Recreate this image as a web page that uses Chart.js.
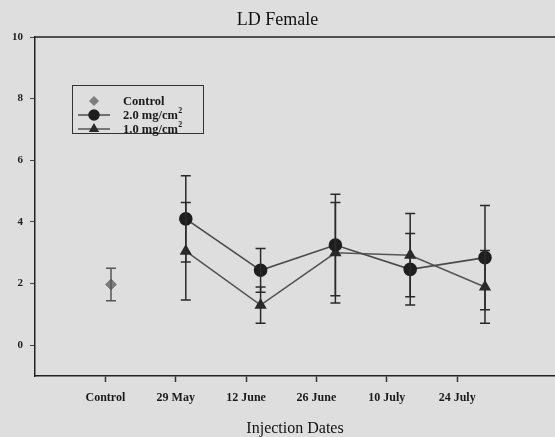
<!DOCTYPE html>
<html>
<head>
<meta charset="utf-8">
<title>LD Female</title>
<script src="https://cdn.jsdelivr.net/npm/chart.js@4.4.1/dist/chart.umd.min.js"></script>
<style>
    html, body { margin: 0; padding: 0; background: #dedede; }
    #wrap { position: relative; width: 555px; height: 437px; }
</style>
</head>
<body>
<div id="wrap"><canvas id="chart" width="555" height="437"></canvas></div>
<script>
// Data
const categories = ['Control', '29 May', '12 June', '26 June', '10 July', '24 July'];
const controlMean = [1.97];
const controlErr = [0.53];
const dose2Mean = [null, 4.10, 2.43, 3.25, 2.46, 2.84];
const dose2Err = [null, 1.40, 0.71, 1.65, 1.16, 1.69];
const dose1Mean = [null, 3.05, 1.30, 3.00, 2.92, 1.89];
const dose1Err = [null, 1.58, 0.59, 1.63, 1.35, 1.18];
const yTicks = [0, 2, 4, 6, 8, 10];

const serif = '"Liberation Serif", "DejaVu Serif", serif';

function toPoints(means, errs) {
    return means.map((m, i) => m === null ? null : { x: i + 1, y: m, err: errs[i] }).filter(p => p);
}

// vertical error bars with caps
const errorBars = {
    id: 'errorBars',
    afterDatasetsDraw(chart) {
        const ctx = chart.ctx;
        const ys = chart.scales.y;
        chart.data.datasets.forEach((ds, di) => {
            const meta = chart.getDatasetMeta(di);
            meta.data.forEach((el, i) => {
                const p = ds.data[i];
                const top = ys.getPixelForValue(p.y + p.err);
                const bot = ys.getPixelForValue(p.y - p.err);
                ctx.save();
                ctx.strokeStyle = ds.errorColor;
                ctx.lineWidth = 1.5;
                ctx.beginPath();
                ctx.moveTo(el.x, top); ctx.lineTo(el.x, bot);
                ctx.moveTo(el.x - 5, top); ctx.lineTo(el.x + 5, top);
                ctx.moveTo(el.x - 5, bot); ctx.lineTo(el.x + 5, bot);
                ctx.stroke();
                ctx.restore();
            });
        });
    }
};

// top frame line + legend box inside plot
const frameAndLegend = {
    id: 'frameAndLegend',
    afterDraw(chart) {
        const ctx = chart.ctx;
        const a = chart.chartArea;
        ctx.save();
        ctx.strokeStyle = '#222';
        ctx.lineWidth = 1.5;
        ctx.beginPath();
        ctx.moveTo(a.left, a.top); ctx.lineTo(a.right, a.top);
        ctx.stroke();

        // legend
        const bx = 72, by = 85, bw = 131, bh = 48;
        ctx.lineWidth = 1;
        ctx.strokeStyle = '#333';
        ctx.strokeRect(bx + 0.5, by + 0.5, bw, bh);
        ctx.textBaseline = 'middle';
        chart.data.datasets.forEach((ds, i) => {
            const y = by + 16 + i * 14;
            const cx = bx + 22;
            if (ds.showLine !== false) {
                ctx.strokeStyle = ds.borderColor;
                ctx.lineWidth = 1.5;
                ctx.beginPath();
                ctx.moveTo(bx + 6, y); ctx.lineTo(bx + 38, y);
                ctx.stroke();
            }
            ctx.fillStyle = ds.pointBackgroundColor;
            ctx.strokeStyle = ds.pointBorderColor;
            Chart.helpers.drawPoint(ctx, {
                pointStyle: ds.pointStyle, radius: ds.pointRadius - 1, borderWidth: 1, rotation: 0
            }, cx, y);
            ctx.fillStyle = '#1a1a1a';
            const base = ds.labelBase, sup = ds.labelSup;
            ctx.font = 'bold 12.5px ' + serif;
            ctx.fillText(base, bx + 51, y + 1);
            if (sup) {
                const w = ctx.measureText(base).width;
                ctx.font = 'bold 8px ' + serif;
                ctx.fillText(sup, bx + 51 + w + 0.5, y - 4);
            }
        });
        ctx.restore();
    }
};

new Chart(document.getElementById('chart'), {
    type: 'line',
    data: {
        datasets: [
            {
                label: 'Control', labelBase: 'Control', labelSup: '',
                data: toPoints(controlMean, controlErr),
                showLine: false,
                pointStyle: 'rectRot', pointRadius: 5.5,
                pointBackgroundColor: '#7d7d7d', pointBorderColor: '#7d7d7d',
                borderColor: '#7d7d7d', errorColor: '#555',
                xAxisID: 'xd'
            },
            {
                label: '2.0 mg/cm²', labelBase: '2.0 mg/cm', labelSup: '2',
                data: toPoints(dose2Mean, dose2Err),
                pointStyle: 'circle', pointRadius: 6,
                pointBackgroundColor: '#1e1e1e', pointBorderColor: '#1e1e1e',
                borderColor: '#4a4a4a', borderWidth: 1.6, errorColor: '#2a2a2a',
                tension: 0, xAxisID: 'xd'
            },
            {
                label: '1.0 mg/cm²', labelBase: '1.0 mg/cm', labelSup: '2',
                data: toPoints(dose1Mean, dose1Err),
                pointStyle: 'triangle', pointRadius: 5.5,
                pointBackgroundColor: '#2a2a2a', pointBorderColor: '#2a2a2a',
                borderColor: '#555', borderWidth: 1.6, errorColor: '#2a2a2a',
                tension: 0, xAxisID: 'xd'
            }
        ]
    },
    options: {
        responsive: false,
        animation: false,
        layout: { padding: 0, autoPadding: false },
        plugins: {
            legend: { display: false },
            tooltip: { enabled: false },
            title: {
                display: true,
                text: 'LD Female',
                color: '#111',
                font: { family: serif, size: 18, weight: 'normal' },
                padding: { top: 9, bottom: 6.4 }
            }
        },
        scales: {
            // data positions (points in the scan are spaced a bit wider than the tick marks)
            xd: {
                type: 'linear', display: false, min: -0.016, max: 6.936
            },
            x: {
                type: 'linear', position: 'bottom', min: 0, max: 7.39,
                afterBuildTicks: s => { s.ticks = categories.map((c, i) => ({ value: i + 1 })); },
                afterFit: s => { s.height = 61; },
                ticks: {
                    color: '#1a1a1a', padding: 9, autoSkip: false, maxRotation: 0,
                    font: { family: serif, size: 12, weight: 'bold' },
                    callback: v => categories[v - 1]
                },
                grid: { drawOnChartArea: false, drawTicks: true, tickLength: 6, color: '#333', tickWidth: 1.5 },
                border: { display: true, color: '#222', width: 1.5 },
                title: {
                    display: true, text: 'Injection Dates', color: '#111',
                    font: { family: serif, size: 16, lineHeight: 1 }, padding: { top: 6, bottom: 0 }
                }
            },
            y: {
                min: -1, max: 10,
                afterBuildTicks: s => { s.ticks = yTicks.map(v => ({ value: v })); },
                afterFit: s => { s.width = 35; },
                ticks: { color: '#222', padding: 7, font: { family: serif, size: 11, weight: 'bold' } },
                grid: { drawOnChartArea: false, drawTicks: true, tickLength: 5, color: '#444', tickWidth: 1 },
                border: { display: true, color: '#222', width: 1.5 }
            }
        }
    },
    plugins: [errorBars, frameAndLegend]
});
</script>
</body>
</html>
